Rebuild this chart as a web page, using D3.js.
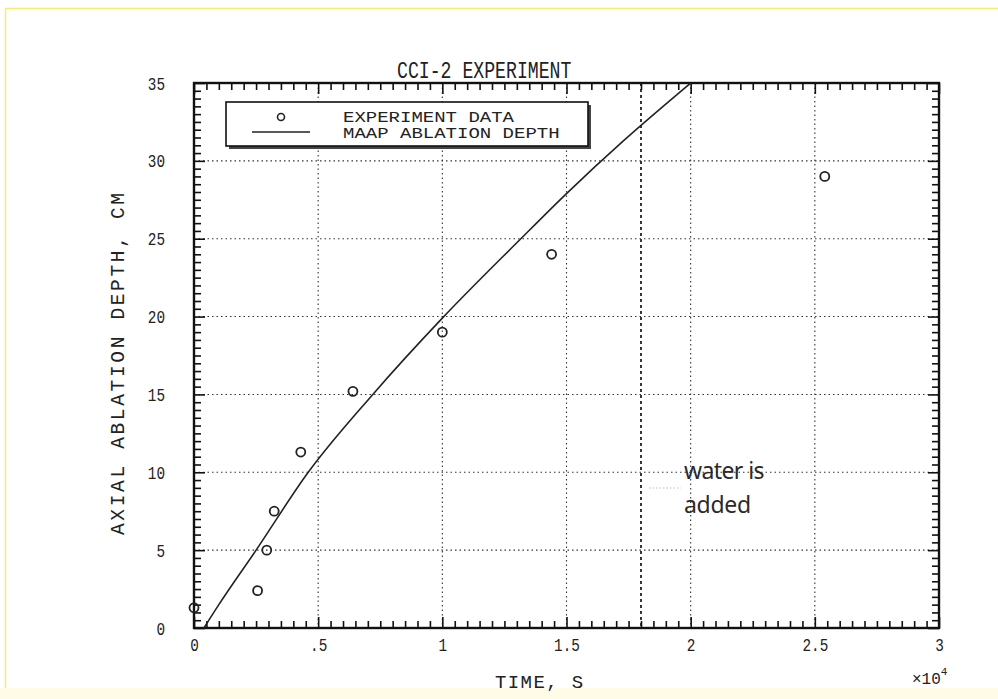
<!DOCTYPE html>
<html>
<head>
<meta charset="utf-8">
<script src="https://cdn.jsdelivr.net/npm/d3@7"></script>
<style>
  html, body { margin: 0; padding: 0; background: #ffffff; }
  svg { display: block; }
  .plotfont { font-family: "Liberation Mono", "DejaVu Sans Mono", monospace; fill: #222; }
</style>
</head>
<body>
<svg id="chart" width="998" height="699"></svg>
<script>
// Measured data (time in units of 10^4 s, depth in cm)
const expTime  = [0.0, 0.256, 0.293, 0.323, 0.43, 0.64, 1.0, 1.44, 2.54];
const expDepth = [1.3, 2.4, 5.0, 7.5, 11.3, 15.2, 19.0, 24.0, 29.0];

// MAAP calculated ablation depth
const maapTime  = [0.04, 0.10, 0.25, 0.46, 0.72, 1.00, 1.31, 1.50, 1.73, 2.00];
const maapDepth = [0.0, 1.5, 5.0, 10.0, 15.0, 19.9, 24.9, 27.9, 31.3, 35.0];

// Axis ticks and labels
const xTicks = [0, 0.5, 1, 1.5, 2, 2.5, 3];
const xTickLabels = ["0", ".5", "1", "1.5", "2", "2.5", "3"];
const yTicks = [0, 5, 10, 15, 20, 25, 30, 35];
const yTickLabels = ["0", "5", "10", "15", "20", "25", "30", "35"];

const waterTime = 1.8;
const legendItems = ["EXPERIMENT DATA", "MAAP ABLATION DEPTH"];

const svg = d3.select("#chart");

// page frame: thin yellow edges and cream strip at bottom
svg.append("rect").attr("x", 0).attr("y", 688).attr("width", 998).attr("height", 11).attr("fill", "#fffbe6");
svg.append("line").attr("x1", 5).attr("x2", 998).attr("y1", 8.5).attr("y2", 8.5)
  .attr("stroke", "#f4ec72").attr("stroke-width", 1.5);
svg.append("line").attr("x1", 5.5).attr("x2", 5.5).attr("y1", 8).attr("y2", 688)
  .attr("stroke", "#f4ec72").attr("stroke-width", 1.5);

const x = d3.scaleLinear().domain([0, 3]).range([194, 939]);
const y = d3.scaleLinear().domain([0, 35]).range([628, 83]);

const xMinor = d3.range(0, 3.0001, 0.05).filter(v => Math.abs(v * 2 - Math.round(v * 2)) > 1e-6);
const yMinor = d3.range(0, 35.0001, 0.5).filter(v => Math.abs(v / 5 - Math.round(v / 5)) > 1e-6);

// narrow plotter-style lettering: size sets the height, textLength the advance
function plotText(sel, size, perChar, adjust) {
  sel.attr("class", "plotfont").style("font-size", size + "px")
    .attr("textLength", function () { return this.textContent.length * perChar; })
    .attr("lengthAdjust", adjust || "spacingAndGlyphs");
}

// dotted grid at the major ticks
const grid = svg.append("g").attr("stroke", "#333").attr("stroke-width", 1.1).attr("stroke-dasharray", "1.5,3");
grid.selectAll(".gx").data(xTicks.slice(1, -1)).join("line")
  .attr("x1", d => x(d)).attr("x2", d => x(d)).attr("y1", y(35)).attr("y2", y(0));
grid.selectAll(".gy").data(yTicks.slice(1, -1)).join("line")
  .attr("x1", x(0)).attr("x2", x(3)).attr("y1", d => y(d)).attr("y2", d => y(d));

// water-addition marker
svg.append("line")
  .attr("x1", x(waterTime)).attr("x2", x(waterTime)).attr("y1", y(35)).attr("y2", y(0))
  .attr("stroke", "#222").attr("stroke-width", 1.8).attr("stroke-dasharray", "3,3");
svg.append("line")
  .attr("x1", x(waterTime) + 8).attr("x2", x(waterTime) + 40).attr("y1", 488).attr("y2", 488)
  .attr("stroke", "#bbb").attr("stroke-width", 1).attr("stroke-dasharray", "1.5,2");

// axes with inward ticks on all four sides
function styleAxis(g) {
  g.select(".domain").remove();
  g.selectAll(".tick line").attr("stroke", "#111").attr("stroke-width", 1.6);
}
svg.append("g").attr("transform", `translate(0,${y(0)})`)
  .call(d3.axisBottom(x).tickValues(xMinor).tickSize(-7).tickFormat("")).call(styleAxis);
svg.append("g").attr("transform", `translate(0,${y(35)})`)
  .call(d3.axisTop(x).tickValues(xMinor).tickSize(-7).tickFormat("")).call(styleAxis);
svg.append("g").attr("transform", `translate(${x(0)},0)`)
  .call(d3.axisLeft(y).tickValues(yMinor).tickSize(-7).tickFormat("")).call(styleAxis);
svg.append("g").attr("transform", `translate(${x(3)},0)`)
  .call(d3.axisRight(y).tickValues(yMinor).tickSize(-7).tickFormat("")).call(styleAxis);

const xAxisB = svg.append("g").attr("transform", `translate(0,${y(0)})`)
  .call(d3.axisBottom(x).tickValues(xTicks).tickSize(-11).tickPadding(10)
    .tickFormat((d, i) => xTickLabels[i])).call(styleAxis);
svg.append("g").attr("transform", `translate(0,${y(35)})`)
  .call(d3.axisTop(x).tickValues(xTicks).tickSize(-11).tickFormat("")).call(styleAxis);
const yAxisL = svg.append("g").attr("transform", `translate(${x(0)},0)`)
  .call(d3.axisLeft(y).tickValues(yTicks).tickSize(-11).tickPadding(29)
    .tickFormat((d, i) => yTickLabels[i])).call(styleAxis);
svg.append("g").attr("transform", `translate(${x(3)},0)`)
  .call(d3.axisRight(y).tickValues(yTicks).tickSize(-11).tickFormat("")).call(styleAxis);

[xAxisB, yAxisL].forEach(g => g.selectAll(".tick text").call(plotText, 19, 8.6).attr("fill", "#222"));

// plot frame
svg.append("rect").attr("x", x(0)).attr("y", y(35)).attr("width", x(3) - x(0)).attr("height", y(0) - y(35))
  .attr("fill", "none").attr("stroke", "#111").attr("stroke-width", 2.4);

// MAAP curve
const line = d3.line().x((d, i) => x(maapTime[i])).y(d => y(d)).curve(d3.curveMonotoneX);
svg.append("path").datum(maapDepth).attr("d", line)
  .attr("fill", "none").attr("stroke", "#222").attr("stroke-width", 1.6);

// experiment points
svg.append("g").selectAll("circle").data(expDepth).join("circle")
  .attr("cx", (d, i) => x(expTime[i])).attr("cy", d => y(d)).attr("r", 4.5)
  .attr("fill", "none").attr("stroke", "#222").attr("stroke-width", 1.8);

// legend
const lg = svg.append("g");
lg.append("rect").attr("x", 229).attr("y", 105).attr("width", 362).attr("height", 44).attr("fill", "#444");
lg.append("rect").attr("x", 226).attr("y", 102).attr("width", 362).attr("height", 44)
  .attr("fill", "#fff").attr("stroke", "#111").attr("stroke-width", 1.6);
lg.append("circle").attr("cx", 281).attr("cy", 117).attr("r", 3.5)
  .attr("fill", "none").attr("stroke", "#222").attr("stroke-width", 1.6);
lg.append("line").attr("x1", 252).attr("x2", 310).attr("y1", 132).attr("y2", 132)
  .attr("stroke", "#222").attr("stroke-width", 1.6);
lg.selectAll("text").data(legendItems).join("text")
  .attr("x", 343).attr("y", (d, i) => 122 + i * 16).text(d => d).call(plotText, 14.5, 11.4);

// titles
svg.append("text").attr("x", 397).attr("y", 78).text("CCI-2 EXPERIMENT").call(plotText, 23, 10.9);
svg.append("text").attr("x", 495).attr("y", 688).text("TIME, S").call(plotText, 19, 12.6, "spacing");
svg.append("text").attr("transform", "translate(124,535) rotate(-90)")
  .text("AXIAL ABLATION DEPTH, CM").call(plotText, 19.5, 14.25, "spacing");
const sc = svg.append("text").attr("class", "plotfont").attr("x", 912).attr("y", 684).style("font-size", "16px");
sc.append("tspan").text("×10");
sc.append("tspan").attr("dy", -9).style("font-size", "11px").text("4");

// annotation
svg.append("text").attr("x", 684).attr("y", 479).attr("fill", "#2a2a2a")
  .style("font-family", "'Noto Sans', sans-serif").style("font-size", "23px").style("letter-spacing", "-0.6px")
  .text("water is");
svg.append("text").attr("x", 684).attr("y", 513).attr("fill", "#2a2a2a")
  .style("font-family", "'Noto Sans', sans-serif").style("font-size", "23px").style("letter-spacing", "-0.3px")
  .text("added");
</script>
</body>
</html>
